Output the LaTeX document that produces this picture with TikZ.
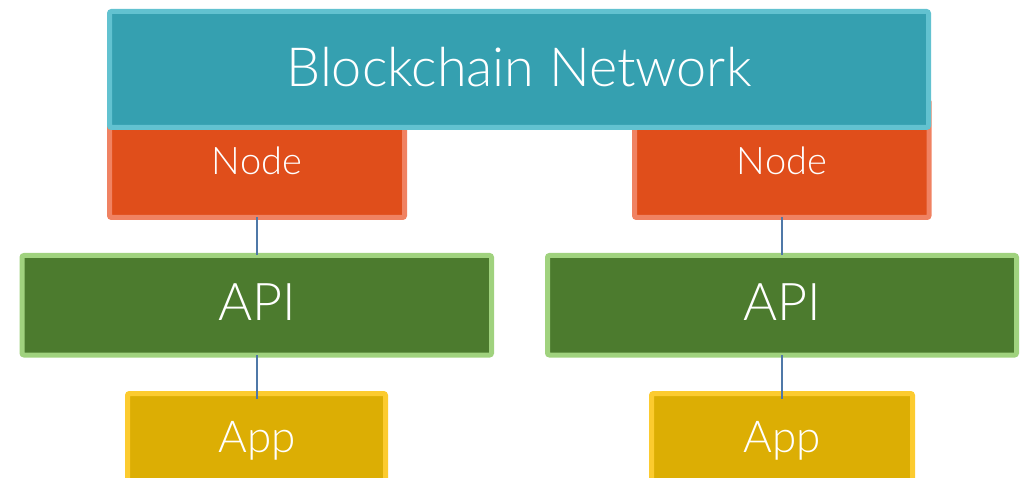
\documentclass[tikz,border=0pt]{standalone}
\usepackage{fontspec}
\setmainfont{Lato}[UprightFont=* Light]
\begin{document}
\begin{tikzpicture}[x=1pt,y=-1pt,
  box/.style={draw, line width=5pt, rounded corners=2pt},
  net/.style={box, fill=netfill, draw=netline},
  nd/.style={box, fill=ndfill, draw=ndline},
  api/.style={box, fill=apifill, draw=apiline},
  app/.style={box, fill=appfill, draw=appline},
  lbl/.style={text=white, inner sep=0pt, anchor=base},
  conn/.style={draw=connc, line width=2pt}]
\definecolor{netfill}{HTML}{35A0B0}
\definecolor{netline}{HTML}{62C2D0}
\definecolor{ndfill}{HTML}{E04E1B}
\definecolor{ndline}{HTML}{F08262}
\definecolor{apifill}{HTML}{4C7B2E}
\definecolor{apiline}{HTML}{A0D27E}
\definecolor{appfill}{HTML}{DCAE04}
\definecolor{appline}{HTML}{FCCB2F}
\definecolor{connc}{HTML}{4F78A8}
\useasboundingbox (0,0) rectangle (1025,478);
\clip (0,0) rectangle (1025,478);
% node boxes (behind network)
\path[nd] (109.5,100) rectangle (404.5,217.5);
\node[inner sep=0pt] (n1) at (257,217.5) {};
\path[nd] (634.5,100) rectangle (929,217.5);
\node[inner sep=0pt] (n2) at (782,217.5) {};
% network
\path[net] (109.5,11.5) rectangle (928.5,127.5);
\node[lbl, font=\fontsize{54}{56}\selectfont] (bn) at (519,87) {Blockchain Network};
% API boxes
\path[api] (22,255.5) rectangle (491.5,355);
\path[api] (547.5,255.5) rectangle (1016.5,355);
\node[inner sep=0pt] (a1t) at (257,255) {};
\node[inner sep=0pt] (a1b) at (257,355) {};
\node[inner sep=0pt] (a2t) at (782,255) {};
\node[inner sep=0pt] (a2b) at (782,355) {};
% App boxes
\path[app] (127.5,393.5) rectangle (385.5,500);
\path[app] (651.5,393.5) rectangle (912.5,500);
\node[inner sep=0pt] (p1) at (257,399) {};
\node[inner sep=0pt] (p2) at (782,399) {};
% labels
\node[lbl, font=\fontsize{38}{40}\selectfont] (l1) at (257,175) {Node};
\node[lbl, font=\fontsize{52}{54}\selectfont] (l3) at (257,320) {API};
\node[lbl, font=\fontsize{38}{40}\selectfont] (l2) at (782,175) {Node};
\node[lbl, font=\fontsize{52}{54}\selectfont] (l4) at (782,320) {API};
\node[lbl, font=\fontsize{44}{46}\selectfont] (l5) at (257,452) {App};
\node[lbl, font=\fontsize{44}{46}\selectfont] (l6) at (782,452) {App};
% connectors
\draw[conn] (n1.center) -- (a1t.center);
\draw[conn] (n2.center) -- (a2t.center);
\draw[conn] (a1b.center) -- (p1.center);
\draw[conn] (a2b.center) -- (p2.center);
\end{tikzpicture}
\end{document}
